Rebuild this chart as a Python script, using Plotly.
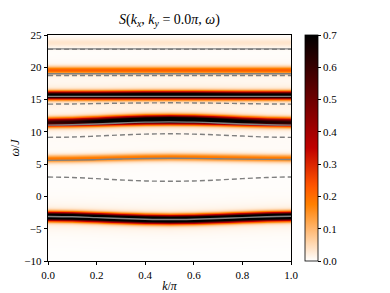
import numpy as np
import plotly.graph_objects as go

# ---------------- data ----------------
k_vals = [0.0, 0.1, 0.2, 0.3, 0.4, 0.5, 0.6, 0.7, 0.8, 0.9, 1.0]

# spectral peaks: centre (omega/J) and peak weight at each k
peakA_center = [-3.10, -3.15, -3.28, -3.42, -3.53, -3.58, -3.53, -3.42, -3.28, -3.15, -3.08]
peakA_weight = [0.90, 0.90, 0.90, 0.90, 0.90, 0.90, 0.90, 0.90, 0.90, 0.90, 0.90]
peakB_center = [5.80, 5.83, 5.90, 5.98, 6.05, 6.08, 6.05, 6.00, 5.95, 5.90, 5.88]
peakB_weight = [0.17, 0.17, 0.17, 0.17, 0.17, 0.17, 0.17, 0.17, 0.17, 0.17, 0.17]
peakC_center = [11.45, 11.50, 11.62, 11.75, 11.85, 11.88, 11.85, 11.75, 11.62, 11.50, 11.45]
peakC_weight = [0.55, 0.58, 0.65, 0.74, 0.82, 0.85, 0.82, 0.74, 0.66, 0.60, 0.58]
peakD_center = [15.65, 15.65, 15.65, 15.66, 15.67, 15.67, 15.67, 15.66, 15.65, 15.65, 15.65]
peakD_weight = [0.75, 0.75, 0.76, 0.78, 0.80, 0.80, 0.80, 0.78, 0.76, 0.75, 0.75]
peakE_center = [19.55, 19.55, 19.55, 19.55, 19.55, 19.55, 19.55, 19.55, 19.55, 19.55, 19.55]
peakE_weight = [0.20, 0.20, 0.20, 0.20, 0.20, 0.20, 0.20, 0.20, 0.20, 0.20, 0.20]
peakF_center = [23.80, 23.80, 23.80, 23.80, 23.80, 23.80, 23.80, 23.80, 23.80, 23.80, 23.80]
peakF_weight = [0.03, 0.03, 0.03, 0.03, 0.03, 0.03, 0.03, 0.03, 0.03, 0.03, 0.03]
peak_sigma = [0.44, 0.40, 0.45, 0.40, 0.38, 0.50]

# solid reference bands
solid1 = [-3.10, -3.15, -3.28, -3.42, -3.53, -3.58, -3.53, -3.42, -3.28, -3.15, -3.08]
solid2 = [5.58, 5.62, 5.70, 5.80, 5.88, 5.92, 5.90, 5.84, 5.78, 5.74, 5.72]
solid3 = [11.05, 11.10, 11.22, 11.38, 11.50, 11.55, 11.50, 11.38, 11.22, 11.10, 11.05]
solid4 = [15.50, 15.50, 15.50, 15.50, 15.50, 15.50, 15.50, 15.50, 15.50, 15.50, 15.50]
solid5 = [19.00, 19.00, 19.00, 19.00, 19.00, 19.00, 19.00, 19.00, 19.00, 19.00, 19.00]
solid6 = [22.85, 22.85, 22.85, 22.85, 22.85, 22.85, 22.85, 22.85, 22.85, 22.85, 22.85]

# dashed reference bands
dash1 = [3.00, 2.93, 2.75, 2.55, 2.40, 2.35, 2.40, 2.55, 2.75, 2.93, 3.02]
dash2 = [9.15, 9.20, 9.35, 9.52, 9.65, 9.70, 9.65, 9.52, 9.35, 9.20, 9.15]
dash3 = [14.30, 14.32, 14.38, 14.44, 14.48, 14.50, 14.48, 14.44, 14.38, 14.32, 14.30]
dash4 = [18.72, 18.72, 18.72, 18.72, 18.72, 18.72, 18.72, 18.72, 18.72, 18.72, 18.72]
dash5 = [22.80, 22.80, 22.80, 22.80, 22.80, 22.80, 22.80, 22.80, 22.80, 22.80, 22.80]

cbar_ticks = [0.0, 0.1, 0.2, 0.3, 0.4, 0.5, 0.6, 0.7]

# ---------------- build spectral map ----------------
omega = np.arange(-10.0, 25.0001, 0.02)
K = np.array(k_vals)
centers = [peakA_center, peakB_center, peakC_center, peakD_center, peakE_center, peakF_center]
weights = [peakA_weight, peakB_weight, peakC_weight, peakD_weight, peakE_weight, peakF_weight]
Z = np.zeros((omega.size, K.size))
for c, w, s in zip(centers, weights, peak_sigma):
    c = np.array(c)[None, :]
    w = np.array(w)[None, :]
    d = omega[:, None] - c
    gam = 0.7
    Z += w * np.exp(-d**2 / (2 * s**2)) + 0.10 * w * gam**2 / (d**2 + gam**2)

# gist_heat_r colormap
def gist_heat_r(t):
    x = 1 - t
    r = min(1.0, 1.5 * x)
    g = max(0.0, 2 * x - 1)
    b = max(0.0, 4 * x - 3)
    return f"rgb({int(round(r*255))},{int(round(g*255))},{int(round(b*255))})"

cs = [[t, gist_heat_r(t)] for t in np.linspace(0, 1, 41)]

FONT = "Liberation Serif"

# page body has an 8px margin: figure is sized / offset to compensate
W, H = 382, 285
L, T, PW, PH = 40, 27, 243, 226

fig = go.Figure()
fig.add_trace(go.Heatmap(
    x=K, y=omega, z=Z, zmin=0, zmax=0.7, zsmooth="best",
    colorscale=cs,
    colorbar=dict(
        thickness=13, thicknessmode="pixels", len=1.0, lenmode="fraction",
        x=1 + 14 / PW, xpad=0, xanchor="left",
        y=0.5, yanchor="middle", ypad=0,
        tickvals=cbar_ticks, ticktext=[f"{v:.1f}" for v in cbar_ticks],
        ticks="outside", ticklen=3, tickwidth=0.8, tickcolor="black",
        outlinewidth=0.8, outlinecolor="black",
        tickfont=dict(family=FONT, size=11, color="black"),
    ),
))

for arr in [solid1, solid2, solid3, solid4, solid5, solid6]:
    fig.add_trace(go.Scatter(x=k_vals, y=arr, mode="lines", line_shape="spline",
                             line=dict(color="#808080", width=1.4),
                             showlegend=False, hoverinfo="skip"))
for arr in [dash1, dash2, dash3, dash4, dash5]:
    fig.add_trace(go.Scatter(x=k_vals, y=arr, mode="lines", line_shape="spline",
                             line=dict(color="#808080", width=1.4, dash="5px,3px"),
                             showlegend=False, hoverinfo="skip"))

axis_font = dict(family=FONT, size=11, color="black")
fig.update_layout(
    width=W, height=H,
    margin=dict(l=L, r=W - L - PW, t=T, b=H - T - PH, autoexpand=False),
    paper_bgcolor="white", plot_bgcolor="white",
    title=dict(text="<i>S</i>(<i>k<sub>x</sub></i>, <i>k<sub>y</sub></i> = 0.0<i>π</i>, <i>ω</i>)",
               x=(L + PW / 2) / W, xanchor="center", y=1 - 11 / H, yanchor="middle",
               font=dict(family=FONT, size=14, color="black")),
    xaxis=dict(range=[0, 1], tickvals=[0, 0.2, 0.4, 0.6, 0.8, 1.0],
               ticktext=["0.0", "0.2", "0.4", "0.6", "0.8", "1.0"],
               ticks="outside", ticklen=3.5, tickwidth=0.8, tickcolor="black",
               showline=True, linecolor="black", linewidth=0.8, mirror=True,
               showgrid=False, zeroline=False, tickfont=axis_font, automargin=False,
               title=dict(text="<i>k</i>/<i>π</i>", font=dict(family=FONT, size=12, color="black"), standoff=2)),
    yaxis=dict(range=[-10, 25], tickvals=[-10, -5, 0, 5, 10, 15, 20, 25],
               ticktext=["−10", "−5", "0", "5", "10", "15", "20", "25"],
               ticks="outside", ticklen=3.5, tickwidth=0.8, tickcolor="black",
               showline=True, linecolor="black", linewidth=0.8, mirror=True,
               showgrid=False, zeroline=False, tickfont=axis_font, automargin=False,
               title=dict(text="<i>ω</i>/<i>J</i>", font=dict(family=FONT, size=12, color="black"), standoff=6)),
)

fig.write_html("out.html")
